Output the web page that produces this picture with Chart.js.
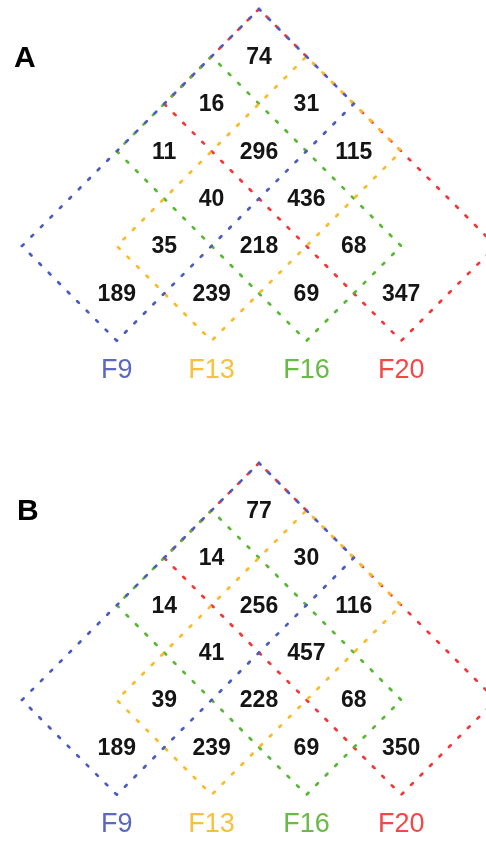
<!DOCTYPE html>
<html>
<head>
<meta charset="utf-8">
<script src="https://cdn.jsdelivr.net/npm/chart.js@4/dist/chart.umd.min.js"></script>
<style>
  html, body { margin: 0; padding: 0; background: #ffffff; }
  canvas { display: block; }
</style>
</head>
<body>
<canvas id="panelA" width="486" height="420"></canvas>
<canvas id="panelB" width="486" height="421"></canvas>
<script>
// Four sets and the fifteen intersection regions of the diagram
const setNames = ['F9', 'F13', 'F16', 'F20'];
const regions = [
  'F9', 'F13', 'F16', 'F20',
  'F9&F13', 'F9&F16', 'F9&F20', 'F13&F16', 'F13&F20', 'F16&F20',
  'F9&F13&F16', 'F9&F13&F20', 'F9&F16&F20', 'F13&F16&F20',
  'F9&F13&F16&F20'
];
const countsA = [189, 239, 69, 347, 35, 11, 74, 218, 115, 68, 40, 31, 16, 436, 296];
const countsB = [189, 239, 69, 350, 39, 14, 77, 228, 116, 68, 41, 30, 14, 457, 256];

// Each set is a rectangle on a 45-degree grid: p runs up-right, q runs down-right
const setRects = {
  F9:  { p: [0, 5], q: [0, 2] },
  F13: { p: [1, 5], q: [1, 3] },
  F16: { p: [2, 4], q: [0, 4] },
  F20: { p: [3, 5], q: [0, 5] }
};
const setStyle = {
  F9:  { color: '#4a5bc2', text: '#5b68c2', offset: 0 },
  F13: { color: '#fbbb28', text: '#f7c03f', offset: 4 },
  F16: { color: '#58b834', text: '#68bb45', offset: 2.5 },
  F20: { color: '#f33636', text: '#f34848', offset: 2.5 }
};

// grid (p, q) -> plot coordinates
const toXY = (p, q) => ({ x: p + q, y: p - q });

function rectOutline(name) {
  const r = setRects[name];
  // start at the bottom vertex so the dots sit on the corners
  return [
    toXY(r.p[0], r.q[1]), toXY(r.p[0], r.q[0]), toXY(r.p[1], r.q[0]),
    toXY(r.p[1], r.q[1]), toXY(r.p[0], r.q[1])
  ];
}

function inSet(name, i, j) {
  const r = setRects[name];
  return i >= r.p[0] && i < r.p[1] && j >= r.q[0] && j < r.q[1];
}

// Place each region's count in the grid cell whose membership matches it;
// when a region covers several cells, use the lowest one.
function regionAnchor(key) {
  const members = key.split('&');
  let best = null;
  for (let i = 0; i < 5; i++) {
    for (let j = 0; j < 5; j++) {
      const here = setNames.filter(s => inSet(s, i, j));
      if (here.length === members.length && members.every(m => here.includes(m))) {
        if (!best || (j - i) > (best.j - best.i)) best = { i, j };
      }
    }
  }
  return toXY(best.i + 0.5, best.j + 0.5);
}

const labelsPlugin = {
  id: 'diamondLabels',
  afterDatasetsDraw(chart, args, opts) {
    const { ctx, scales: { x, y } } = chart;
    ctx.save();
    // region counts
    ctx.fillStyle = '#151515';
    ctx.font = "bold 23px 'Liberation Sans', Arial, sans-serif";
    ctx.textAlign = 'center';
    ctx.textBaseline = 'middle';
    regions.forEach((key, k) => {
      const pt = regionAnchor(key);
      ctx.fillText(String(opts.counts[k]), x.getPixelForValue(pt.x), y.getPixelForValue(pt.y) + 1);
    });
    // set names under the bottom vertex of each rectangle
    ctx.font = "27px 'Liberation Sans', Arial, sans-serif";
    setNames.forEach(name => {
      const r = setRects[name];
      const v = toXY(r.p[0], r.q[1]);
      ctx.fillStyle = setStyle[name].text;
      ctx.fillText(name, x.getPixelForValue(v.x), y.getPixelForValue(v.y) + 30);
    });
    // panel letter
    ctx.fillStyle = '#000000';
    ctx.font = "bold 30px 'Liberation Sans', Arial, sans-serif";
    ctx.textAlign = 'left';
    ctx.textBaseline = 'alphabetic';
    ctx.fillText(opts.letter, opts.letterX, opts.letterY);
    ctx.restore();
  }
};

function buildPanel(canvasId, counts, letter, yRange, letterX, letterY) {
  return new Chart(document.getElementById(canvasId), {
    type: 'scatter',
    data: {
      datasets: setNames.map(name => ({
        label: name,
        data: rectOutline(name),
        showLine: true,
        fill: false,
        tension: 0,
        borderColor: setStyle[name].color,
        borderWidth: 2.7,
        borderDash: [2.4, 11.0],
        borderDashOffset: setStyle[name].offset,
        borderCapStyle: 'round',
        pointRadius: 0,
        pointHoverRadius: 0
      }))
    },
    options: {
      responsive: false,
      animation: false,
      devicePixelRatio: 1,
      layout: { padding: 0 },
      events: [],
      scales: {
        x: { type: 'linear', display: false, min: -0.464, max: 9.789 },
        y: { type: 'linear', display: false, min: yRange[0], max: yRange[1] }
      },
      plugins: {
        legend: { display: false },
        tooltip: { enabled: false },
        diamondLabels: { counts, letter, letterX, letterY }
      }
    },
    plugins: [labelsPlugin]
  });
}

buildPanel('panelA', countsA, 'A', [-3.671, 5.19], 14, 67);
buildPanel('panelB', countsB, 'B', [-2.975, 5.907], 17, 100);
</script>
</body>
</html>
